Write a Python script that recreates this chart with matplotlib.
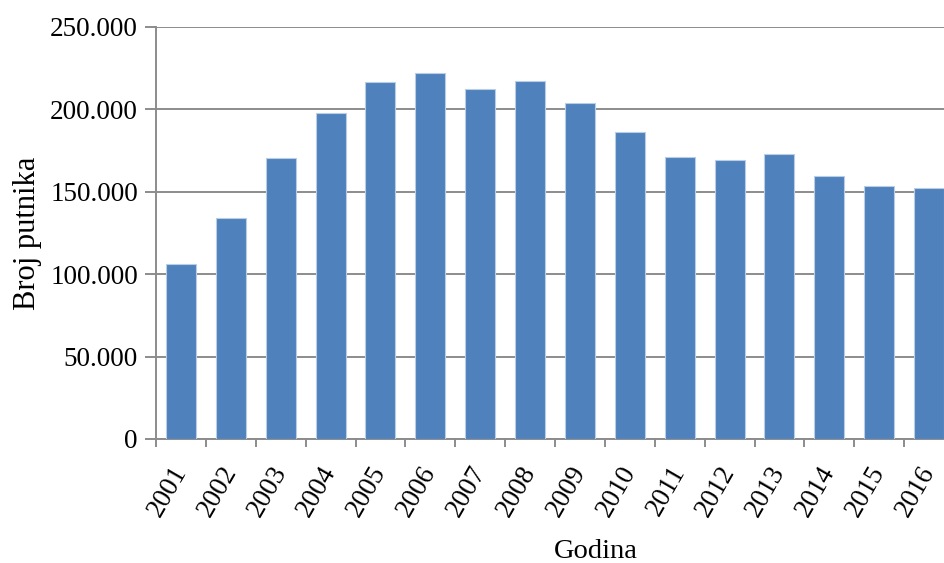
import numpy as np
import matplotlib.pyplot as plt
from matplotlib.ticker import FuncFormatter

plt.rcParams['font.family'] = ['Liberation Serif', 'DejaVu Serif']

# podaci
godine = ['2001', '2002', '2003', '2004', '2005', '2006', '2007', '2008',
          '2009', '2010', '2011', '2012', '2013', '2014', '2015', '2016']
putnici = [106000, 134000, 170300, 197900, 216400, 222000, 212100, 217500,
           204000, 186300, 171300, 169100, 173200, 159400, 153300, 152100]
y_ticks = [0, 50000, 100000, 150000, 200000, 250000]

fig = plt.figure(figsize=(9.44, 5.63), dpi=100)
# desni rub grafikona je odrezan kao na originalu
ax = fig.add_axes([156 / 944, 1 - 439 / 563, 798 / 944, 412 / 563])

x = np.arange(len(godine))
siva = '#8c8c8c'

ax.bar(x, putnici, width=0.6, color='#4f81bd', edgecolor='#b9cde5',
       linewidth=0.8, zorder=3)

ax.set_xlim(-0.5, len(godine) - 0.5)
ax.set_ylim(0, 250000)
ax.set_yticks(y_ticks)
ax.yaxis.set_major_formatter(FuncFormatter(
    lambda v, pos: '0' if v == 0 else f'{int(v):,}'.replace(',', '.')))
ax.yaxis.grid(True, color=siva, linewidth=1.4, zorder=0)

# kvačice između kategorija
ax.set_xticks(np.arange(len(godine) + 1) - 0.5)
ax.set_xticklabels([])
ax.set_xticks(x, minor=True)
ax.set_xticklabels(godine, minor=True, rotation=60, ha='right', va='center',
                   rotation_mode='anchor', fontsize=19.5)
ax.tick_params(axis='x', which='minor', length=0, pad=21)
ax.tick_params(axis='x', which='major', length=6, width=1.4, color=siva)
ax.tick_params(axis='y', length=8, width=1.4, color=siva, labelsize=19.5, pad=5)

for s in ['top', 'right']:
    ax.spines[s].set_visible(False)
for s in ['left', 'bottom']:
    ax.spines[s].set_color(siva)
    ax.spines[s].set_linewidth(1.4)

ax.set_ylabel('Broj putnika', fontsize=22, labelpad=6)
fig.text(596 / 944, 1 - 551 / 563, 'Godina', fontsize=20.5, ha='center', va='center')

plt.savefig('out.png', dpi=100)
plt.close(fig)
